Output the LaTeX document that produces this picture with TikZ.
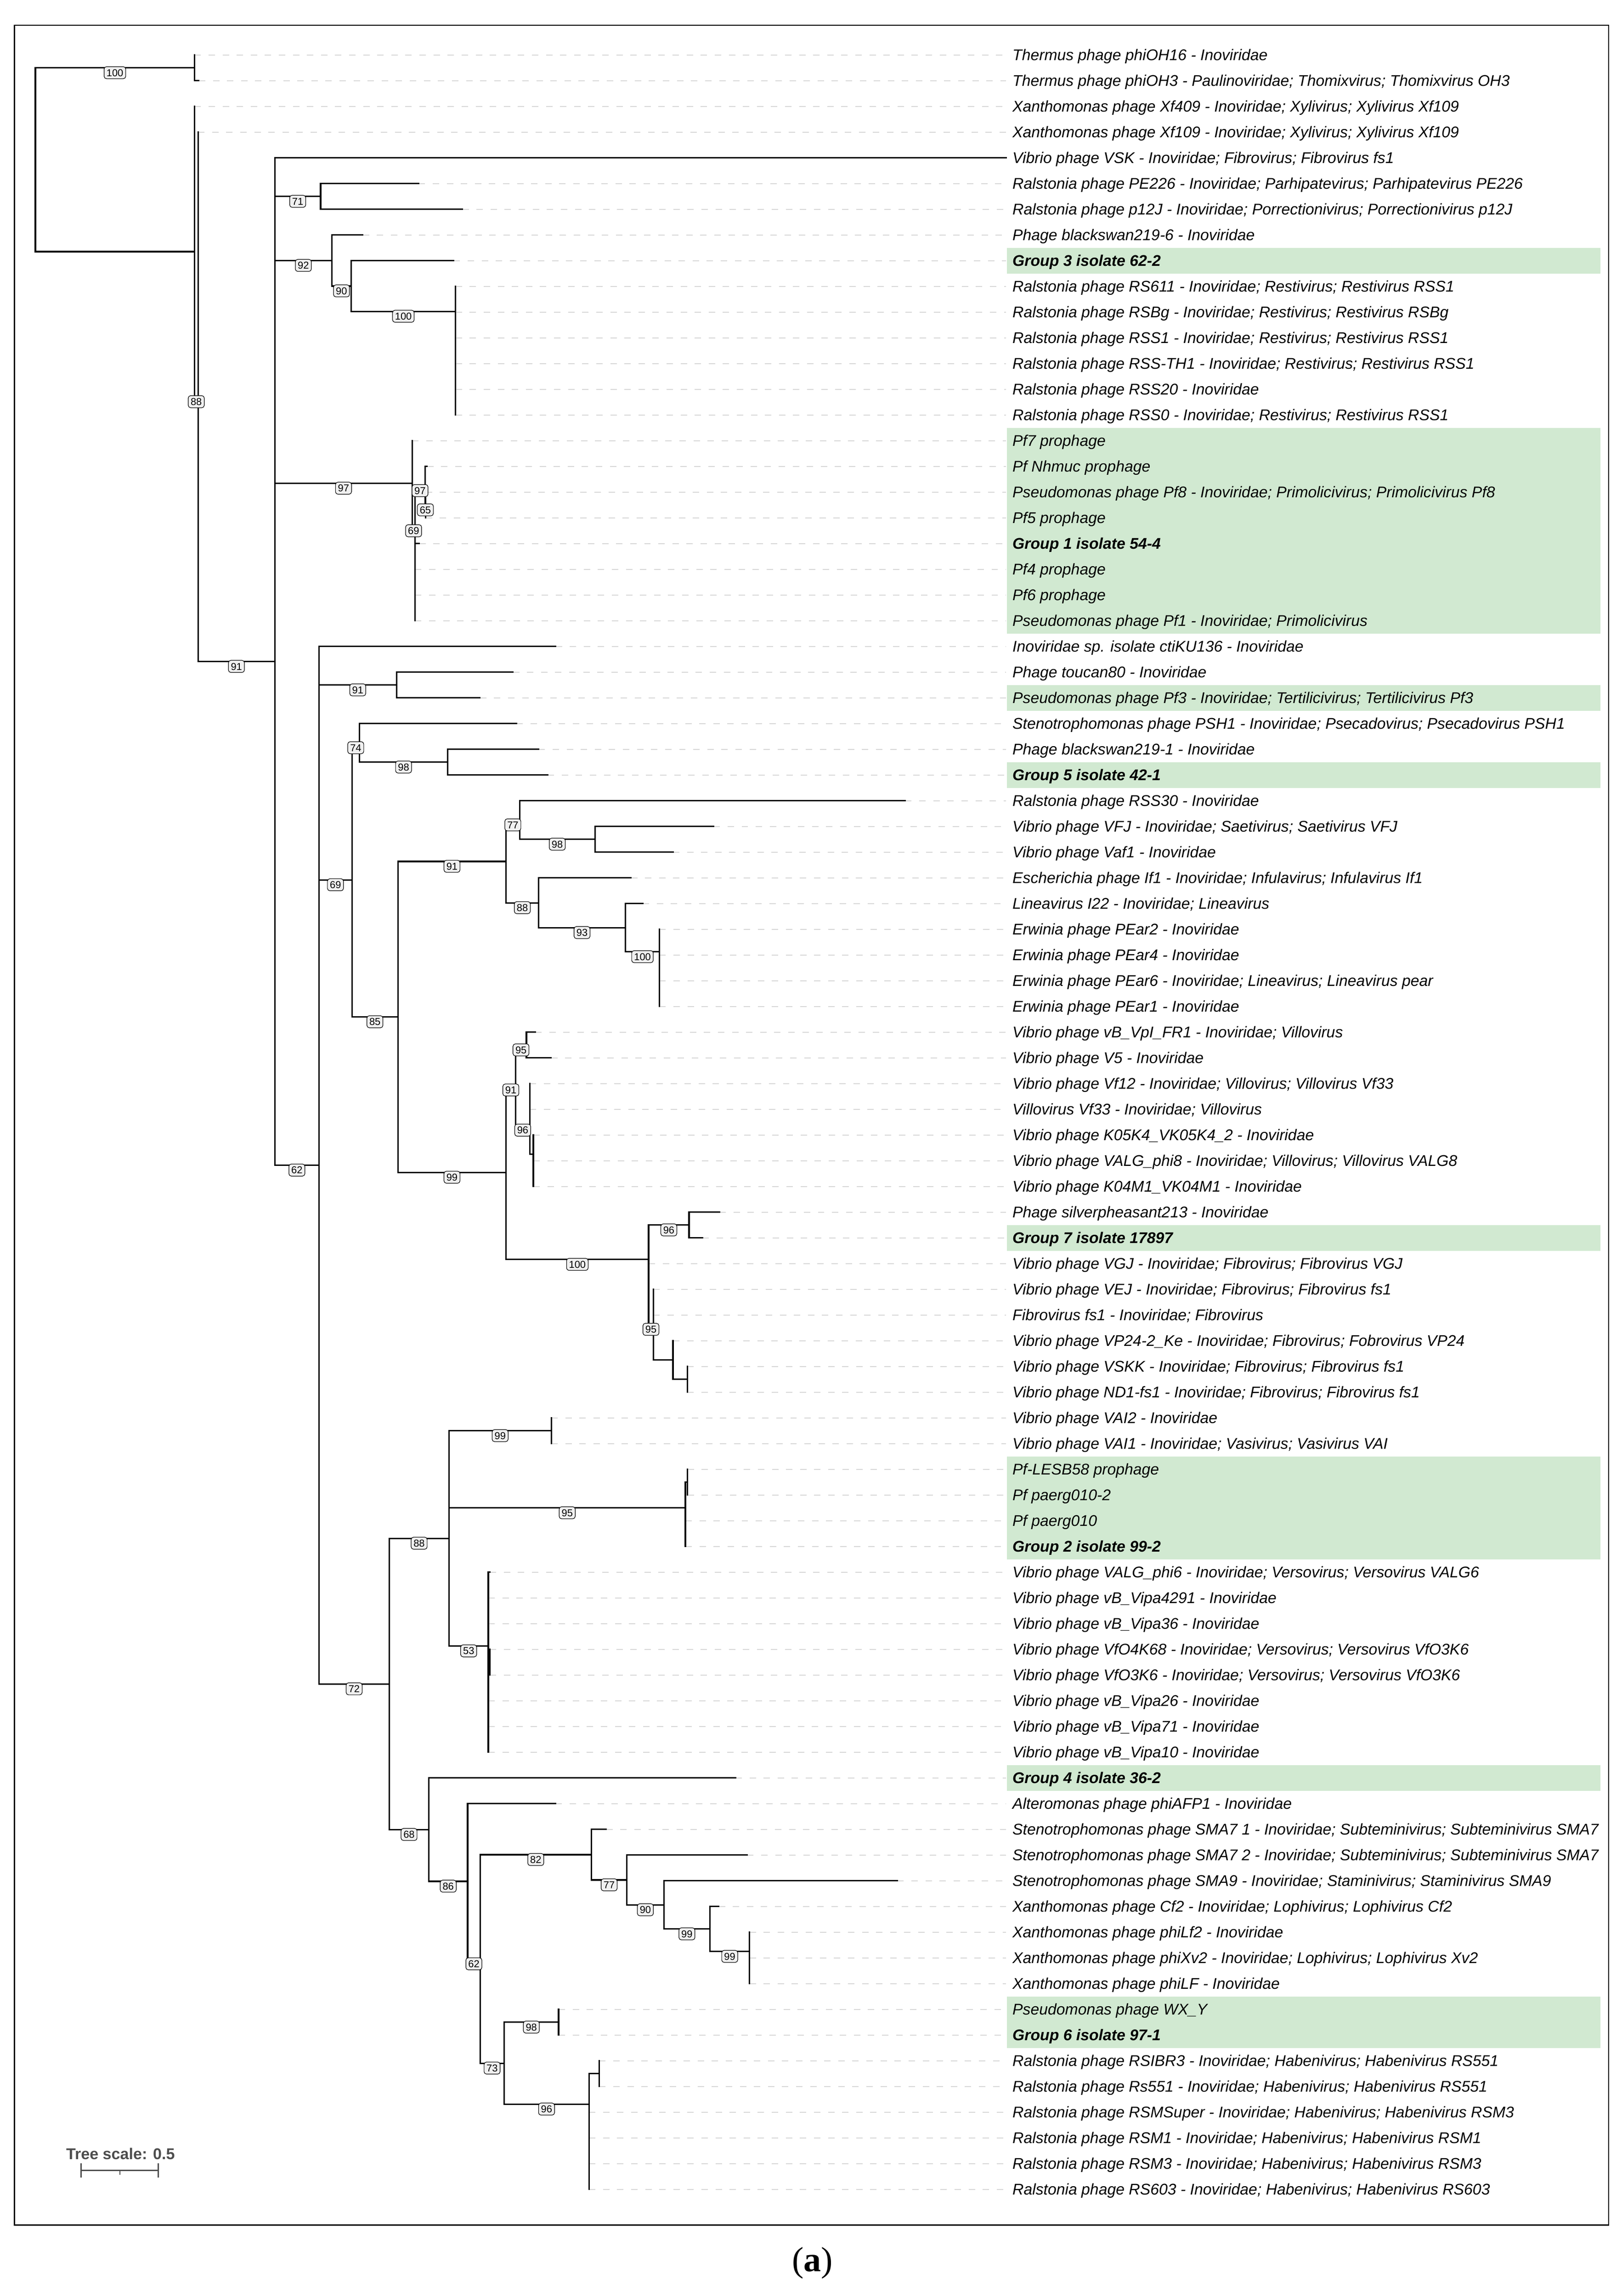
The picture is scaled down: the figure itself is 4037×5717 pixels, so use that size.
\documentclass[tikz,border=0pt]{standalone}
\usepackage{fontspec}
\setmainfont{Liberation Sans}
\newfontfamily\capfont{Liberation Serif}
\usetikzlibrary{calc}
\definecolor{hlgreen}{RGB}{209,233,209}
\definecolor{leadgray}{RGB}{214,214,214}
\definecolor{scalegray}{RGB}{77,77,77}
\definecolor{bsfill}{RGB}{240,240,240}
\tikzset{
  branch/.style={line width=3.6pt, line cap=rect, line join=miter, black},
  leader/.style={line width=2pt, leadgray, dash pattern=on 16pt off 19pt},
  lab/.style={anchor=base west, inner sep=0pt, font=\fontsize{38.6}{40}\selectfont\itshape},
  blab/.style={anchor=base west, inner sep=0pt, font=\fontsize{38.6}{40}\selectfont\bfseries\itshape},
  bsl/.style={draw=black, line width=1.4pt, fill=bsfill, rounded corners=6pt, inner xsep=6pt, inner ysep=6pt, text height=18pt, text depth=0pt, font=\fontsize{25}{26}\selectfont, yshift=-12pt},
}
\newcommand\tleaf[5]{%
  \coordinate (L#1) at (#2,#3);
  \draw[leader] (L#1) -- (L#1 -| dend);
  \node[#4] (t#1) at (2520,#3+13.8) {#5};
}
\begin{document}
\begin{tikzpicture}[x=1pt,y=-1pt]
\useasboundingbox (0,0) rectangle (4037,5717);
\coordinate (dend) at (2504,0);
% highlights
\foreach \a/\b in {617.2/681.3, 1065.4/1577.7, 1705.7/1769.8, 1897.8/1961.9, 3050.4/3114.4, 3626.6/3882.8, 4395.0/4459.0, 4971.3/5099.3}
  \fill[hlgreen] (2506,\a) rectangle (3984,\b);
% frame
\draw[line width=3pt] (35.7,63) rectangle (4004,5540);
% leaves
\tleaf{1}{484}{137.00}{lab}{Thermus phage phiOH16 - Inoviridae}
\tleaf{2}{495}{201.03}{lab}{Thermus phage phiOH3 - Paulinoviridae; Thomixvirus; Thomixvirus OH3}
\tleaf{3}{484}{265.06}{lab}{Xanthomonas phage Xf409 - Inoviridae; Xylivirus; Xylivirus Xf109}
\tleaf{4}{493}{329.09}{lab}{Xanthomonas phage Xf109 - Inoviridae; Xylivirus; Xylivirus Xf109}
\tleaf{5}{2504}{393.12}{lab}{Vibrio phage VSK - Inoviridae; Fibrovirus; Fibrovirus fs1}
\tleaf{6}{1042}{457.15}{lab}{Ralstonia phage PE226 - Inoviridae; Parhipatevirus; Parhipatevirus PE226}
\tleaf{7}{1151}{521.18}{lab}{Ralstonia phage p12J - Inoviridae; Porrectionivirus; Porrectionivirus p12J}
\tleaf{8}{903}{585.21}{lab}{Phage blackswan219-6 - Inoviridae}
\tleaf{9}{1129}{649.24}{blab}{Group 3 isolate 62-2}
\tleaf{10}{1134}{713.27}{lab}{Ralstonia phage RS611 - Inoviridae; Restivirus; Restivirus RSS1}
\tleaf{11}{1134}{777.30}{lab}{Ralstonia phage RSBg - Inoviridae; Restivirus; Restivirus RSBg}
\tleaf{12}{1134}{841.33}{lab}{Ralstonia phage RSS1 - Inoviridae; Restivirus; Restivirus RSS1}
\tleaf{13}{1134}{905.36}{lab}{Ralstonia phage RSS-TH1 - Inoviridae; Restivirus; Restivirus RSS1}
\tleaf{14}{1134}{969.39}{lab}{Ralstonia phage RSS20 - Inoviridae}
\tleaf{15}{1134}{1033.42}{lab}{Ralstonia phage RSS0 - Inoviridae; Restivirus; Restivirus RSS1}
\tleaf{16}{1026}{1097.45}{lab}{Pf7 prophage}
\tleaf{17}{1063}{1161.48}{lab}{Pf Nhmuc prophage}
\tleaf{18}{1059.5}{1225.51}{lab}{Pseudomonas phage Pf8 - Inoviridae; Primolicivirus; Primolicivirus Pf8}
\tleaf{19}{1059.5}{1289.54}{lab}{Pf5 prophage}
\tleaf{20}{1043.6}{1353.57}{blab}{Group 1 isolate 54-4}
\tleaf{21}{1033}{1417.60}{lab}{Pf4 prophage}
\tleaf{22}{1033}{1481.63}{lab}{Pf6 prophage}
\tleaf{23}{1033}{1545.66}{lab}{Pseudomonas phage Pf1 - Inoviridae; Primolicivirus}
\tleaf{24}{1383}{1609.69}{lab}{Inoviridae sp. isolate ctiKU136 - Inoviridae}
\tleaf{25}{1276.6}{1673.72}{lab}{Phage toucan80 - Inoviridae}
\tleaf{26}{1194.6}{1737.75}{lab}{Pseudomonas phage Pf3 - Inoviridae; Tertilicivirus; Tertilicivirus Pf3}
\tleaf{27}{1285.5}{1801.78}{lab}{Stenotrophomonas phage PSH1 - Inoviridae; Psecadovirus; Psecadovirus PSH1}
\tleaf{28}{1340.5}{1865.81}{lab}{Phage blackswan219-1 - Inoviridae}
\tleaf{29}{1363}{1929.84}{blab}{Group 5 isolate 42-1}
\tleaf{30}{2253}{1993.87}{lab}{Ralstonia phage RSS30 - Inoviridae}
\tleaf{31}{1776}{2057.90}{lab}{Vibrio phage VFJ - Inoviridae; Saetivirus; Saetivirus VFJ}
\tleaf{32}{1675}{2121.93}{lab}{Vibrio phage Vaf1 - Inoviridae}
\tleaf{33}{1570.6}{2185.96}{lab}{Escherichia phage If1 - Inoviridae; Infulavirus; Infulavirus If1}
\tleaf{34}{1599.8}{2249.99}{lab}{Lineavirus I22 - Inoviridae; Lineavirus}
\tleaf{35}{1641.3}{2314.02}{lab}{Erwinia phage PEar2 - Inoviridae}
\tleaf{36}{1641.3}{2378.05}{lab}{Erwinia phage PEar4 - Inoviridae}
\tleaf{37}{1641.3}{2442.08}{lab}{Erwinia phage PEar6 - Inoviridae; Lineavirus; Lineavirus pear}
\tleaf{38}{1641.3}{2506.11}{lab}{Erwinia phage PEar1 - Inoviridae}
\tleaf{39}{1332}{2570.14}{lab}{Vibrio phage vB\_VpI\_FR1 - Inoviridae; Villovirus}
\tleaf{40}{1371.7}{2634.17}{lab}{Vibrio phage V5 - Inoviridae}
\tleaf{41}{1318.9}{2698.20}{lab}{Vibrio phage Vf12 - Inoviridae; Villovirus; Villovirus Vf33}
\tleaf{42}{1318.9}{2762.23}{lab}{Villovirus Vf33 - Inoviridae; Villovirus}
\tleaf{43}{1327.5}{2826.26}{lab}{Vibrio phage K05K4\_VK05K4\_2 - Inoviridae}
\tleaf{44}{1327.5}{2890.29}{lab}{Vibrio phage VALG\_phi8 - Inoviridae; Villovirus; Villovirus VALG8}
\tleaf{45}{1327.5}{2954.32}{lab}{Vibrio phage K04M1\_VK04M1 - Inoviridae}
\tleaf{46}{1790.8}{3018.35}{lab}{Phage silverpheasant213 - Inoviridae}
\tleaf{47}{1748.3}{3082.38}{blab}{Group 7 isolate 17897}
\tleaf{48}{1614.5}{3146.41}{lab}{Vibrio phage VGJ - Inoviridae; Fibrovirus; Fibrovirus VGJ}
\tleaf{49}{1626}{3210.44}{lab}{Vibrio phage VEJ - Inoviridae; Fibrovirus; Fibrovirus fs1}
\tleaf{50}{1626}{3274.47}{lab}{Fibrovirus fs1 - Inoviridae; Fibrovirus}
\tleaf{51}{1675}{3338.50}{lab}{Vibrio phage VP24-2\_Ke - Inoviridae; Fibrovirus; Fobrovirus VP24}
\tleaf{52}{1711}{3402.53}{lab}{Vibrio phage VSKK - Inoviridae; Fibrovirus; Fibrovirus fs1}
\tleaf{53}{1711}{3466.56}{lab}{Vibrio phage ND1-fs1 - Inoviridae; Fibrovirus; Fibrovirus fs1}
\tleaf{54}{1372.2}{3530.59}{lab}{Vibrio phage VAI2 - Inoviridae}
\tleaf{55}{1372.2}{3594.62}{lab}{Vibrio phage VAI1 - Inoviridae; Vasivirus; Vasivirus VAI}
\tleaf{56}{1711.5}{3658.65}{lab}{Pf-LESB58 prophage}
\tleaf{57}{1711.5}{3722.68}{lab}{Pf paerg010-2}
\tleaf{58}{1706}{3786.71}{lab}{Pf paerg010}
\tleaf{59}{1706}{3850.74}{blab}{Group 2 isolate 99-2}
\tleaf{60}{1219}{3914.77}{lab}{Vibrio phage VALG\_phi6 - Inoviridae; Versovirus; Versovirus VALG6}
\tleaf{61}{1215.5}{3978.80}{lab}{Vibrio phage vB\_Vipa4291 - Inoviridae}
\tleaf{62}{1215.5}{4042.83}{lab}{Vibrio phage vB\_Vipa36 - Inoviridae}
\tleaf{63}{1219}{4106.86}{lab}{Vibrio phage VfO4K68 - Inoviridae; Versovirus; Versovirus VfO3K6}
\tleaf{64}{1219}{4170.89}{lab}{Vibrio phage VfO3K6 - Inoviridae; Versovirus; Versovirus VfO3K6}
\tleaf{65}{1215.5}{4234.92}{lab}{Vibrio phage vB\_Vipa26 - Inoviridae}
\tleaf{66}{1215.5}{4298.95}{lab}{Vibrio phage vB\_Vipa71 - Inoviridae}
\tleaf{67}{1215.5}{4362.98}{lab}{Vibrio phage vB\_Vipa10 - Inoviridae}
\tleaf{68}{1830.5}{4427.01}{blab}{Group 4 isolate 36-2}
\tleaf{69}{1382.4}{4491.04}{lab}{Alteromonas phage phiAFP1 - Inoviridae}
\tleaf{70}{1509}{4555.07}{lab}{Stenotrophomonas phage SMA7 1 - Inoviridae; Subteminivirus; Subteminivirus SMA7}
\tleaf{71}{1859.5}{4619.10}{lab}{Stenotrophomonas phage SMA7 2 - Inoviridae; Subteminivirus; Subteminivirus SMA7}
\tleaf{72}{2233.6}{4683.13}{lab}{Stenotrophomonas phage SMA9 - Inoviridae; Staminivirus; Staminivirus SMA9}
\tleaf{73}{1789}{4747.16}{lab}{Xanthomonas phage Cf2 - Inoviridae; Lophivirus; Lophivirus Cf2}
\tleaf{74}{1865.6}{4811.19}{lab}{Xanthomonas phage phiLf2 - Inoviridae}
\tleaf{75}{1865.6}{4875.22}{lab}{Xanthomonas phage phiXv2 - Inoviridae; Lophivirus; Lophivirus Xv2}
\tleaf{76}{1865.6}{4939.25}{lab}{Xanthomonas phage phiLF - Inoviridae}
\tleaf{77}{1390.3}{5003.28}{lab}{Pseudomonas phage WX\_Y}
\tleaf{78}{1390.3}{5067.31}{blab}{Group 6 isolate 97-1}
\tleaf{79}{1491.5}{5131.34}{lab}{Ralstonia phage RSIBR3 - Inoviridae; Habenivirus; Habenivirus RS551}
\tleaf{80}{1491.5}{5195.37}{lab}{Ralstonia phage Rs551 - Inoviridae; Habenivirus; Habenivirus RS551}
\tleaf{81}{1466}{5259.40}{lab}{Ralstonia phage RSMSuper - Inoviridae; Habenivirus; Habenivirus RSM3}
\tleaf{82}{1466}{5323.43}{lab}{Ralstonia phage RSM1 - Inoviridae; Habenivirus; Habenivirus RSM1}
\tleaf{83}{1466}{5387.46}{lab}{Ralstonia phage RSM3 - Inoviridae; Habenivirus; Habenivirus RSM3}
\tleaf{84}{1466}{5451.49}{lab}{Ralstonia phage RS603 - Inoviridae; Habenivirus; Habenivirus RS603}
% internal nodes
\coordinate (nR) at (88,397.8);
\coordinate (nT) at (484,169.0);
\coordinate (nA) at (484,626.6);
\coordinate (nB) at (493,988.2);
\coordinate (nC) at (684,1647.3);
\coordinate (nN71) at (798,489.2);
\coordinate (nN92) at (826,648.8);
\coordinate (nN90) at (874,712.3);
\coordinate (nN100) at (1134,775.4);
\coordinate (nP1) at (1026,1203.5);
\coordinate (nP2) at (1033,1309.6);
\coordinate (nP3) at (1058,1209.5);
\coordinate (nP4) at (1059.5,1257.5);
\coordinate (nD) at (794,2901.4);
\coordinate (nN91b) at (987,1705.7);
\coordinate (nE) at (876,2191.0);
\coordinate (nF) at (895,1849.8);
\coordinate (nN98) at (1114,1897.8);
\coordinate (nG) at (990.4,2532.1);
\coordinate (nH) at (1259.7,2145.0);
\coordinate (nK) at (1293.4,2041.9);
\coordinate (nN98b) at (1480.8,2089.9);
\coordinate (nL) at (1340.5,2248.0);
\coordinate (nM) at (1557,2310.0);
\coordinate (nN) at (1641.3,2370.0);
\coordinate (nI) at (1259.7,2919.2);
\coordinate (nO) at (1283.3,2702.1);
\coordinate (nRr) at (1310.3,2602.2);
\coordinate (nS) at (1318.9,2802.0);
\coordinate (nS2) at (1327.5,2874.3);
\coordinate (nQ) at (1614.5,3136.2);
\coordinate (nT2) at (1715,3050.4);
\coordinate (nQ2) at (1614.5,3222.0);
\coordinate (nU) at (1626,3298.0);
\coordinate (nV) at (1675,3386.5);
\coordinate (nW) at (1711,3434.5);
\coordinate (nJ) at (969,4193.1);
\coordinate (nX) at (1117.6,3830.5);
\coordinate (nZ1) at (1372.2,3562.6);
\coordinate (nZ2) at (1706,3754.7);
\coordinate (nZ2a) at (1711.5,3690.7);
\coordinate (nZ3) at (1215.5,4098.5);
\coordinate (nZ3a) at (1219,4138.9);
\coordinate (nY) at (1067.3,4555.7);
\coordinate (nAA) at (1164,4684.4);
\coordinate (nBB) at (1195,4877.8);
\coordinate (nCC) at (1472.2,4618.1);
\coordinate (nEE) at (1560.2,4681.1);
\coordinate (nFF) at (1652.6,4743.2);
\coordinate (nGG) at (1767,4803.2);
\coordinate (nHH) at (1865.6,4859.2);
\coordinate (nDD) at (1254.8,5137.4);
\coordinate (nII) at (1390.3,5035.3);
\coordinate (nJJ) at (1466,5239.5);
\coordinate (nKK) at (1491.5,5163.4);
% branches
\foreach \p/\c in {nR/nT, nR/nA, nT/L1, nT/L2, nA/L3, nA/nB, nB/L4, nB/nC,
  nC/L5, nC/nN71, nC/nN92, nC/nP1, nC/nD,
  nN71/L6, nN71/L7, nN92/L8, nN92/nN90, nN90/L9, nN90/nN100,
  nN100/L10, nN100/L11, nN100/L12, nN100/L13, nN100/L14, nN100/L15,
  nP1/L16, nP1/nP2, nP2/nP3, nP2/L20, nP2/L21, nP2/L22, nP2/L23, nP3/L17, nP3/nP4, nP4/L18, nP4/L19,
  nD/L24, nD/nN91b, nD/nE, nD/nJ, nN91b/L25, nN91b/L26,
  nE/nF, nE/nG, nF/L27, nF/nN98, nN98/L28, nN98/L29,
  nG/nH, nG/nI, nH/nK, nH/nL, nK/L30, nK/nN98b, nN98b/L31, nN98b/L32,
  nL/L33, nL/nM, nM/L34, nM/nN, nN/L35, nN/L36, nN/L37, nN/L38,
  nI/nO, nI/nQ, nO/nRr, nO/nS, nRr/L39, nRr/L40, nS/L41, nS/L42, nS/nS2, nS2/L43, nS2/L44, nS2/L45,
  nQ/nT2, nQ/nQ2, nT2/L46, nT2/L47, nQ2/L48, nQ2/nU, nU/L49, nU/L50, nU/nV, nV/L51, nV/nW, nW/L52, nW/L53,
  nJ/nX, nJ/nY, nX/nZ1, nX/nZ2, nX/nZ3, nZ1/L54, nZ1/L55, nZ2/nZ2a, nZ2/L58, nZ2/L59, nZ2a/L56, nZ2a/L57,
  nZ3/L60, nZ3/L61, nZ3/L62, nZ3/nZ3a, nZ3/L65, nZ3/L66, nZ3/L67, nZ3a/L63, nZ3a/L64,
  nY/L68, nY/nAA, nAA/L69, nAA/nBB, nBB/nCC, nBB/nDD, nCC/L70, nCC/nEE, nEE/L71, nEE/nFF, nFF/L72, nFF/nGG, nGG/L73, nGG/nHH, nHH/L74, nHH/L75, nHH/L76,
  nDD/nII, nDD/nJJ, nII/L77, nII/L78, nJJ/nKK, nJJ/L81, nJJ/L82, nJJ/L83, nJJ/L84, nKK/L79, nKK/L80}
  \draw[branch] (\p) |- (\c);
% bootstrap values
\foreach \p/\c/\v in {nR/nT/100, nA/nB/88, nB/nC/91, nC/nN71/71, nC/nN92/92, nC/nP1/97, nC/nD/62,
  nN92/nN90/90, nN90/nN100/100, nP1/nP2/69, nP2/nP3/97, nP3/nP4/65,
  nD/nN91b/91, nD/nE/69, nD/nJ/72, nE/nF/74, nE/nG/85, nF/nN98/98,
  nG/nH/91, nG/nI/99, nH/nK/77, nH/nL/88, nK/nN98b/98, nL/nM/93, nM/nN/100,
  nI/nO/91, nI/nQ/100, nO/nRr/95, nO/nS/96, nQ/nT2/96, nQ2/nU/95,
  nJ/nX/88, nJ/nY/68, nX/nZ1/99, nX/nZ2/95, nX/nZ3/53,
  nY/nAA/86, nAA/nBB/62, nBB/nCC/82, nBB/nDD/73, nCC/nEE/77, nEE/nFF/90,
  nFF/nGG/99, nGG/nHH/99, nDD/nII/98, nDD/nJJ/96}
  \node[bsl] at ($(\p |- \c)!0.5!(\c)$) {\v};
% tree scale
\node[anchor=base west, inner sep=0pt, text=scalegray, font=\fontsize{39}{40}\selectfont\bfseries] (tscale) at (164.6,5377) {Tree scale: 0.5};
\coordinate (sbL) at (201.7,5404);
\coordinate (sbR) at (394,5404);
\coordinate (sbM) at (298.5,5404);
\draw[scalegray, line width=4pt] (sbL) -- (sbR);
\draw[scalegray, line width=4pt] ([yshift=17pt]sbL) -- ([yshift=-18pt]sbL);
\draw[scalegray, line width=4pt] ([yshift=17pt]sbR) -- ([yshift=-18pt]sbR);
\draw[scalegray, line width=3pt] (sbM) -- ([yshift=-11pt]sbM);
% caption
\node[anchor=base, inner sep=0pt, font=\capfont\fontsize{87}{90}\selectfont] (cap) at (2022,5656) {(\textbf{a})};
\end{tikzpicture}
\end{document}
